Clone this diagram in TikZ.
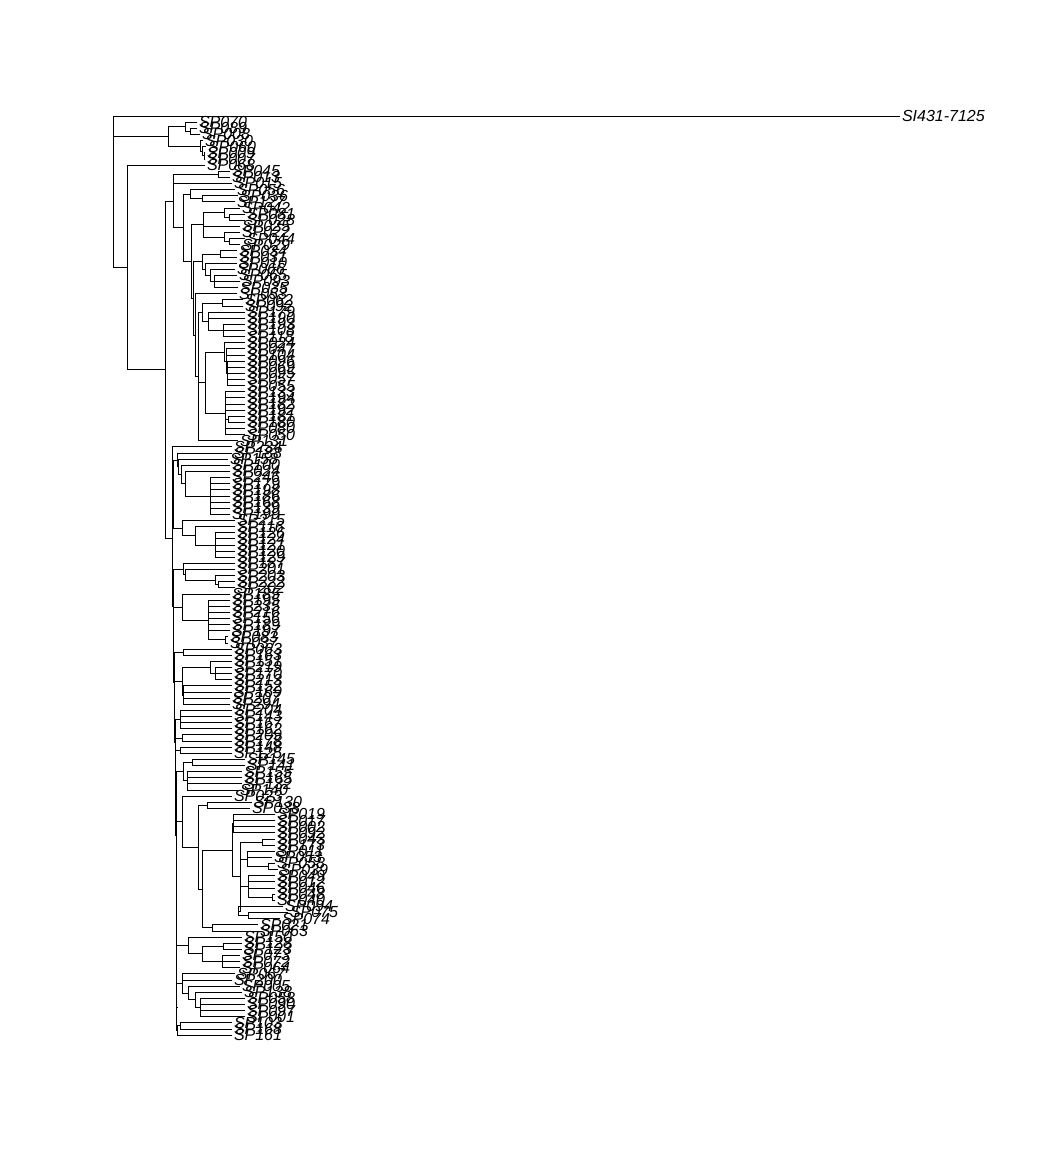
\documentclass[tikz,border=0pt]{standalone}
\usepackage{fontspec}
\setmainfont{Liberation Sans}
\usetikzlibrary{calc}
\tikzset{
  br/.style={line width=0.7pt, line cap=rect},
  tiplab/.style={anchor=west, inner xsep=2pt, inner ysep=0pt, outer sep=0pt,
    font=\itshape\fontsize{16}{16}\selectfont}
}
\newcommand\tp[3]{\node[tiplab] (t#1) at (#2,{116+#1*6.1267}) {#3};}
\newcommand\cl[4]{\path let \p1=(#3), \p2=(#4) in ({#2pt},{0.5*(\y1+\y2)}) coordinate (#1);}
\newcommand\ed[2]{\foreach \ch in {#2}{\draw[br] (#1) |- (\ch);}}
\begin{document}
\begin{tikzpicture}[x=1pt,y=-1pt]
\useasboundingbox (0,0) rectangle (1053,1169);
% ---------- tips ----------
\tp{0}{900}{SI431-7125}
\tp{1}{197}{SP070}
\tp{2}{197}{SP089}
\tp{3}{200}{SP008}
\tp{4}{203}{SP030}
\tp{5}{206}{SP060}
\tp{6}{205}{SP009}
\tp{7}{205}{SP007}
\tp{8}{205}{SP068}
\tp{9}{230}{SP045}
\tp{10}{230}{SP013}
\tp{11}{232}{SP015}
\tp{12}{235}{SP056}
\tp{13}{238}{SP036}
\tp{14}{235}{SP127}
\tp{15}{240}{SP042}
\tp{16}{245}{SP081}
\tp{17}{245}{SP028}
\tp{18}{240}{SP025}
\tp{19}{240}{SP022}
\tp{20}{245}{SP044}
\tp{21}{240}{SP029}
\tp{22}{237}{SP034}
\tp{23}{237}{SP031}
\tp{24}{237}{SP010}
\tp{25}{235}{SP066}
\tp{26}{237}{SP065}
\tp{27}{240}{SP093}
\tp{28}{238}{SP035}
\tp{29}{237}{SP053}
\tp{30}{243}{SP062}
\tp{31}{243}{SP092}
\tp{32}{245}{SP179}
\tp{33}{245}{SP190}
\tp{34}{245}{SP193}
\tp{35}{245}{SP108}
\tp{36}{245}{SP118}
\tp{37}{245}{SP024}
\tp{38}{245}{SP047}
\tp{39}{245}{SP104}
\tp{40}{245}{SP096}
\tp{41}{245}{SP069}
\tp{42}{245}{SP095}
\tp{43}{245}{SP057}
\tp{44}{245}{SP055}
\tp{45}{245}{SP133}
\tp{46}{245}{SP194}
\tp{47}{245}{SP182}
\tp{48}{245}{SP192}
\tp{49}{245}{SP181}
\tp{50}{245}{SP180}
\tp{51}{245}{SP080}
\tp{52}{245}{SP050}
\tp{53}{238}{SP131}
\tp{54}{232}{SP234}
\tp{55}{232}{SP188}
\tp{56}{228}{SP158}
\tp{57}{230}{SP100}
\tp{58}{230}{SP024}
\tp{59}{230}{SP246}
\tp{60}{230}{SP179}
\tp{61}{230}{SP198}
\tp{62}{230}{SP186}
\tp{63}{230}{SP168}
\tp{64}{230}{SP139}
\tp{65}{230}{SP199}
\tp{66}{235}{SP215}
\tp{67}{235}{SP116}
\tp{68}{235}{SP126}
\tp{69}{235}{SP124}
\tp{70}{235}{SP121}
\tp{71}{235}{SP120}
\tp{72}{235}{SP129}
\tp{73}{235}{SP187}
\tp{74}{235}{SP201}
\tp{75}{235}{SP203}
\tp{76}{235}{SP222}
\tp{77}{235}{SP202}
\tp{78}{230}{SP185}
\tp{79}{230}{SP195}
\tp{80}{230}{SP235}
\tp{81}{230}{SP216}
\tp{82}{230}{SP156}
\tp{83}{230}{SP189}
\tp{84}{230}{SP197}
\tp{85}{228}{SP083}
\tp{86}{228}{SP037}
\tp{87}{232}{SP063}
\tp{88}{232}{SP163}
\tp{89}{232}{SP151}
\tp{90}{232}{SP219}
\tp{91}{232}{SP170}
\tp{92}{232}{SP213}
\tp{93}{232}{SP152}
\tp{94}{232}{SP169}
\tp{95}{230}{SP207}
\tp{96}{230}{SP294}
\tp{97}{232}{SP204}
\tp{98}{232}{SP143}
\tp{99}{232}{SP167}
\tp{100}{232}{SP162}
\tp{101}{232}{SP209}
\tp{102}{232}{SP178}
\tp{103}{232}{SP148}
\tp{104}{232}{SP125}
\tp{105}{245}{SP145}
\tp{106}{245}{SP141}
\tp{107}{242}{SP155}
\tp{108}{242}{SP165}
\tp{109}{242}{SP132}
\tp{110}{238}{SP140}
\tp{111}{232}{SP023}
\tp{112}{252}{SP130}
\tp{113}{250}{SP038}
\tp{114}{275}{SP019}
\tp{115}{275}{SP017}
\tp{116}{275}{SP002}
\tp{117}{275}{SP092}
\tp{118}{275}{SP043}
\tp{119}{275}{SP173}
\tp{120}{275}{SP011}
\tp{121}{272}{SP053}
\tp{122}{275}{SP058}
\tp{123}{278}{SP039}
\tp{124}{275}{SP049}
\tp{125}{275}{SP012}
\tp{126}{275}{SP046}
\tp{127}{275}{SP048}
\tp{128}{275}{SP040}
\tp{129}{283}{SP094}
\tp{130}{288}{SP075}
\tp{131}{280}{SP074}
\tp{132}{258}{SP021}
\tp{133}{258}{SP063}
\tp{134}{242}{SP150}
\tp{135}{242}{SP128}
\tp{136}{242}{SP123}
\tp{137}{240}{SP073}
\tp{138}{240}{SP072}
\tp{139}{240}{SP064}
\tp{140}{235}{SP067}
\tp{141}{232}{SP200}
\tp{142}{240}{SP005}
\tp{143}{242}{SP138}
\tp{144}{245}{SP058}
\tp{145}{245}{SP090}
\tp{146}{245}{SP097}
\tp{147}{245}{SP001}
\tp{148}{232}{SP103}
\tp{149}{232}{SP168}
\tp{150}{232}{SP161}
% ---------- clade A ----------
\cl{A1b}{190}{t2}{t3} \ed{A1b}{t2,t3}
\cl{A1}{185}{t1}{A1b} \ed{A1}{t1,A1b}
\cl{A2c}{204}{t6}{t7} \ed{A2c}{t6,t7}
\cl{A2b}{202}{t5}{A2c} \ed{A2b}{t5,A2c}
\cl{A2}{200}{t4}{A2b} \ed{A2}{t4,A2b}
\cl{A}{168}{A1}{A2} \ed{A}{A1,A2}
% ---------- clade C1 ----------
\cl{E1}{218}{t9}{t10} \ed{E1}{t9,t10}
\cl{M2}{202}{t13}{t14} \ed{M2}{t13,t14}
\cl{M1}{190}{t12}{M2} \ed{M1}{t12,M2}
\cl{M5}{229}{t16}{t17} \ed{M5}{t16,t17}
\cl{M4}{224}{t15}{M5} \ed{M4}{t15,M5}
\cl{M7}{229}{t20}{t21} \ed{M7}{t20,t21}
\cl{M6}{224}{t19}{M7} \ed{M6}{t19,M7}
\cl{M3}{203}{M4}{M6} \ed{M3}{M4,t18,M6}
\cl{M8a}{220}{t22}{t23} \ed{M8a}{t22,t23}
\cl{M8d}{214}{t26}{t28} \ed{M8d}{t26,t27,t28}
\cl{M8c}{210}{t25}{M8d} \ed{M8c}{t25,M8d}
\cl{M8b}{205}{t24}{M8c} \ed{M8b}{t24,M8c}
\cl{M8}{202}{M8a}{M8b} \ed{M8}{M8a,M8b}
\cl{M9a}{222}{t30}{t31} \ed{M9a}{t30,t31}
\cl{M9c}{223}{t34}{t36} \ed{M9c}{t34,t35,t36}
\cl{M9b}{208}{t32}{M9c} \ed{M9b}{t32,t33,M9c}
\cl{M9}{202}{M9a}{M9b} \ed{M9}{M9a,M9b}
\cl{M10d}{227}{t40}{t44} \ed{M10d}{t40,t41,t42,t43,t44}
\cl{M10c}{226}{t38}{M10d} \ed{M10c}{t38,t39,M10d}
\cl{M10a}{224}{t37}{M10c} \ed{M10a}{t37,M10c}
\cl{M10e}{228}{t49}{t50} \ed{M10e}{t49,t50}
\cl{M10b}{225}{t45}{t52} \ed{M10b}{t45,t46,t47,t48,M10e,t51,t52}
\cl{M10}{205}{M10a}{M10b} \ed{M10}{M10a,M10b}
\cl{L5}{198}{M9}{t53} \ed{L5}{M9,M10,t53}
\cl{L4}{195}{t29}{L5} \ed{L4}{t29,L5}
\cl{L3}{193}{M8}{L4} \ed{L3}{M8,L4}
\cl{L2}{191}{M3}{L3} \ed{L2}{M3,L3}
\cl{L1}{183}{M1}{L2} \ed{L1}{M1,L2}
\cl{C1}{173}{E1}{L1} \ed{C1}{E1,t11,L1}
% ---------- clade C2 ----------
\cl{S2d}{210}{t59}{t65} \ed{S2d}{t59,t60,t61,t62,t63,t64,t65}
\cl{S2c}{185}{t58}{S2d} \ed{S2c}{t58,S2d}
\cl{S2b}{181}{t57}{S2c} \ed{S2b}{t57,S2c}
\cl{S2a}{178}{t56}{S2b} \ed{S2a}{t56,S2b}
\cl{S2}{177}{t55}{S2a} \ed{S2}{t55,S2a}
\cl{S3b}{215}{t68}{t72} \ed{S3b}{t68,t69,t70,t71,t72}
\cl{S3a}{195}{t67}{S3b} \ed{S3a}{t67,S3b}
\cl{S3}{182}{t66}{S3a} \ed{S3}{t66,S3a}
\cl{S4b}{218}{t76}{t77} \ed{S4b}{t76,t77}
\cl{S4a}{215}{t75}{S4b} \ed{S4a}{t75,S4b}
\cl{S4x}{185}{t74}{S4a} \ed{S4x}{t74,S4a}
\cl{S4}{183}{t73}{S4x} \ed{S4}{t73,S4x}
\cl{S5c}{225}{t85}{t86} \ed{S5c}{t85,t86}
\cl{S5a}{208}{t79}{S5c} \ed{S5a}{t79,t80,t81,t82,t83,t84,S5c}
\cl{S5}{182}{t78}{S5a} \ed{S5}{t78,S5a}
\cl{S6}{183}{t87}{t88} \ed{S6}{t87,t88}
\cl{S7b}{215}{t90}{t92} \ed{S7b}{t90,t91,t92}
\cl{S7a}{210}{t89}{S7b} \ed{S7a}{t89,S7b}
\cl{S7c}{183}{t93}{t96} \ed{S7c}{t93,t94,t95,t96}
\cl{S7}{182}{S7a}{S7c} \ed{S7}{S7a,S7c}
\cl{S8}{180}{t97}{t100} \ed{S8}{t97,t98,t99,t100}
\cl{S9}{182}{t101}{t102} \ed{S9}{t101,t102}
\cl{S10}{180}{t103}{t104} \ed{S10}{t103,t104}
\cl{S11a}{192}{t105}{t106} \ed{S11a}{t105,t106}
\cl{S11b}{187}{t107}{t110} \ed{S11b}{t107,t108,t109,t110}
\cl{S11}{183}{S11a}{S11b} \ed{S11}{S11a,S11b}
\cl{S12b}{207}{t112}{t113} \ed{S12b}{t112,t113}
\cl{S12f}{233}{t114}{t117} \ed{S12f}{t114,t115,t116,t117}
\cl{S12h}{262}{t118}{t119} \ed{S12h}{t118,t119}
\cl{S12j}{268}{t122}{t123} \ed{S12j}{t122,t123}
\cl{S12i}{247}{t120}{S12j} \ed{S12i}{t120,t121,S12j}
\cl{S12m}{272}{t127}{t128} \ed{S12m}{t127,t128}
\cl{S12k}{248}{t124}{S12m} \ed{S12k}{t124,t125,t126,S12m}
\cl{S12n}{248}{t130}{t131} \ed{S12n}{t130,t131}
\cl{S12l}{238}{t129}{S12n} \ed{S12l}{t129,S12n}
\cl{S12g}{240}{S12h}{S12l} \ed{S12g}{S12h,S12i,S12k,S12l}
\cl{S12d}{232}{S12f}{S12g} \ed{S12d}{S12f,S12g}
\cl{S12e}{212}{t132}{t133} \ed{S12e}{t132,t133}
\cl{S12c}{202}{S12d}{S12e} \ed{S12c}{S12d,S12e}
\cl{S12a}{198}{S12b}{S12c} \ed{S12a}{S12b,S12c}
\cl{S12}{182}{t111}{S12a} \ed{S12}{t111,S12a}
\cl{S13c}{223}{t135}{t136} \ed{S13c}{t135,t136}
\cl{S13d}{222}{t137}{t139} \ed{S13d}{t137,t138,t139}
\cl{S13b}{202}{S13c}{S13d} \ed{S13b}{S13c,S13d}
\cl{S13}{188}{t134}{S13b} \ed{S13}{t134,S13b}
\cl{S14c}{200}{t144}{t147} \ed{S14c}{t144,t145,t146,t147}
\cl{S14b}{195}{t143}{S14c} \ed{S14b}{t143,S14c}
\cl{S14a}{188}{t142}{S14b} \ed{S14a}{t142,S14b}
\cl{S14}{182}{t140}{S14a} \ed{S14}{t140,t141,S14a}
\cl{S15}{180}{t148}{t149} \ed{S15}{t148,t149}
\cl{K14}{177.1}{S15}{t150} \ed{K14}{S15,t150}
\cl{K13}{176.8}{S14}{K14} \ed{K13}{S14,K14}
\cl{K12}{176.5}{S13}{K13} \ed{K12}{S13,K13}
\cl{K11}{176.2}{S12}{K12} \ed{K11}{S12,K12}
\cl{K10}{175.9}{S11}{K11} \ed{K10}{S11,K11}
\cl{K9}{175.6}{S10}{K10} \ed{K9}{S10,K10}
\cl{K8}{175.3}{S9}{K9} \ed{K8}{S9,K9}
\cl{K7}{175}{S8}{K8} \ed{K7}{S8,K8}
\cl{K6}{174.6}{S7}{K7} \ed{K6}{S7,K7}
\cl{K5}{174.2}{S6}{K6} \ed{K5}{S6,K6}
\cl{K4}{173.8}{S5}{K5} \ed{K4}{S5,K5}
\cl{K3}{173.4}{S4}{K4} \ed{K3}{S4,K4}
\cl{P2}{173.6}{S2}{S3} \ed{P2}{S2,S3}
\cl{P}{172.6}{t54}{P2} \ed{P}{t54,P2}
\cl{C2}{172}{P}{K3} \ed{C2}{P,K3}
% ---------- backbone ----------
\cl{D}{165}{C1}{C2} \ed{D}{C1,C2}
\cl{B}{127}{t8}{D} \ed{B}{t8,D}
\cl{root}{113}{t0}{B} \ed{root}{t0,A,B}
\end{tikzpicture}
\end{document}
